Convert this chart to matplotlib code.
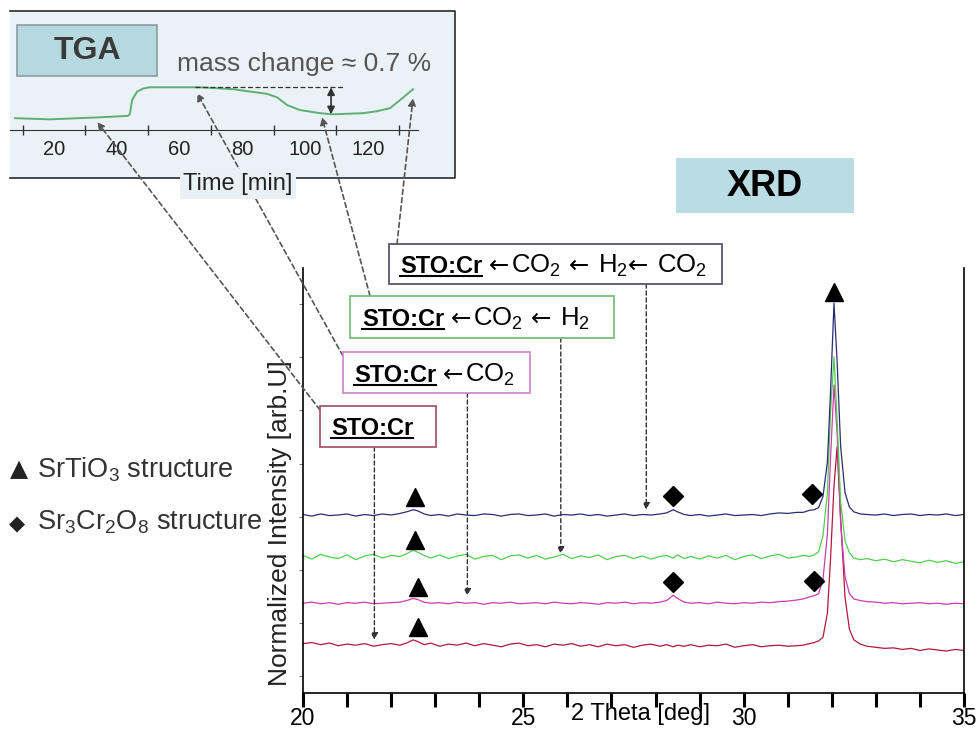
import re

import matplotlib
matplotlib.use("Agg")
import matplotlib.pyplot as plt
from matplotlib.patches import Rectangle, ConnectionPatch
from matplotlib.transforms import blended_transform_factory

plt.rcParams["font.family"] = ["Liberation Sans", "DejaVu Sans"]
plt.rcParams["mathtext.fontset"] = "custom"
plt.rcParams["mathtext.rm"] = "Liberation Sans"
plt.rcParams["mathtext.it"] = "Liberation Sans:italic"
plt.rcParams["mathtext.bf"] = "Liberation Sans:bold"

# %%
# XRD data (2 theta grid shared by the four patterns, intensity above each offset)
two_theta = [20.0, 20.2, 20.4, 20.6, 20.8, 21.0, 21.2, 21.4, 21.6, 21.8, 22.0, 22.2,
             22.35, 22.5, 22.6, 22.75, 22.9,
             23.1, 23.3, 23.5, 23.7, 23.9, 24.1, 24.3, 24.5, 24.7, 24.9, 25.1, 25.3, 25.5,
             25.7, 25.9, 26.1, 26.3, 26.5, 26.7, 26.9, 27.1, 27.3, 27.5, 27.7, 27.9, 28.1,
             28.25, 28.4, 28.5, 28.65, 28.8,
             29.0, 29.2, 29.4, 29.6, 29.8, 30.0, 30.2, 30.4, 30.6, 30.8, 31.0, 31.2,
             31.35, 31.5, 31.6, 31.7, 31.8, 31.9, 31.97, 32.05, 32.12, 32.2, 32.3, 32.4,
             32.5, 32.65, 32.8,
             33.0, 33.2, 33.4, 33.6, 33.8, 34.0, 34.2, 34.4, 34.6, 34.8, 35.0]

sto_cr = [0.03, 0.05, 0.01, 0.04, -0.01, 0.02, 0.00, 0.03, -0.02, 0.01, 0.03, 0.00,
          0.04, 0.10, 0.07, 0.01, 0.04,
          -0.02, 0.02, 0.00, 0.04, -0.01, 0.03, 0.00, -0.03, 0.02, 0.04, -0.01, 0.01, -0.03,
          0.02, 0.00, 0.03, -0.02, 0.01, -0.03, 0.02, -0.01, 0.01, -0.04, 0.00, 0.02, -0.02,
          0.01, -0.03, 0.00, -0.02, 0.01,
          -0.03, 0.00, -0.01, 0.02, -0.04, -0.01, 0.01, -0.03, -0.01, 0.00, -0.02, -0.01,
          0.00, 0.03, 0.05, 0.08, 0.15, 0.60, 1.60, 3.00, 3.73, 2.40, 0.90, 0.30,
          0.10, 0.02, -0.02,
          -0.04, -0.06, -0.05, -0.08, -0.06, -0.10, -0.07, -0.09, -0.11, -0.08, -0.10]

sto_cr_co2 = [0.00, 0.02, -0.01, 0.01, -0.02, 0.01, 0.00, 0.02, -0.01, 0.00, 0.01, 0.02,
              0.05, 0.09, 0.07, 0.02, 0.00,
              0.01, -0.01, 0.02, 0.00, 0.01, -0.02, 0.01, 0.00, 0.02, -0.01, 0.00, 0.01, -0.01,
              0.02, 0.00, -0.01, 0.01, 0.00, -0.02, 0.01, 0.00, 0.02, -0.01, 0.01, 0.00, 0.02,
              0.05, 0.15, 0.09, 0.02, 0.00,
              0.01, -0.01, 0.02, 0.00, -0.01, 0.01, 0.00, 0.02, 0.01, 0.03, 0.04, 0.06,
              0.08, 0.12, 0.14, 0.18, 0.45, 1.30, 2.70, 4.11, 3.20, 1.50, 0.50, 0.18,
              0.08, 0.05, 0.03,
              0.02, 0.00, 0.01, -0.01, 0.00, 0.01, -0.01, 0.00, -0.02, 0.00, -0.01]

sto_cr_co2_h2 = [0.03, -0.04, 0.05, 0.00, -0.03, 0.04, -0.05, 0.02, 0.05, -0.02, 0.03, 0.01,
                 0.06, 0.13, 0.09, 0.03, -0.02,
                 0.04, -0.03, 0.02, 0.05, -0.04, 0.01, 0.03, -0.05, 0.02, 0.04, -0.02, 0.03, -0.04,
                 0.00, 0.05, -0.03, 0.02, -0.01, 0.04, -0.05, 0.01, 0.03, -0.03, 0.02, -0.04, 0.01,
                 0.03, -0.02, 0.04, -0.03, 0.01,
                 -0.04, 0.02, -0.02, 0.03, -0.05, 0.01, 0.04, -0.03, 0.02, 0.05, -0.02, 0.00,
                 0.03, 0.01, 0.04, 0.10, 0.40, 1.20, 2.70, 3.77, 2.60, 1.05, 0.30, 0.08,
                 -0.02, -0.05, -0.03,
                 -0.07, -0.04, -0.09, -0.05, -0.08, -0.11, -0.06, -0.10, -0.07, -0.12, -0.09]

sto_cr_co2_h2_co2 = [0.01, -0.02, 0.02, -0.01, 0.00, 0.02, -0.02, 0.01, -0.01, 0.02, 0.00, 0.03,
                     0.06, 0.10, 0.08, 0.02, -0.01,
                     0.01, -0.02, 0.02, 0.00, -0.01, 0.02, 0.01, -0.02, 0.01, 0.02, -0.01, 0.00, 0.02,
                     -0.02, 0.01, 0.00, 0.02, -0.01, 0.01, -0.02, 0.00, 0.02, -0.01, 0.01, 0.00, 0.02,
                     0.04, 0.10, 0.06, 0.01, -0.01,
                     0.01, -0.02, 0.00, 0.02, -0.01, 0.00, 0.01, -0.01, 0.02, 0.04, 0.03, 0.05,
                     0.05, 0.09, 0.10, 0.14, 0.35, 1.00, 2.30, 3.99, 2.90, 1.30, 0.42, 0.15,
                     0.06, 0.02, 0.01,
                     0.00, 0.02, -0.01, 0.01, 0.02, -0.01, 0.01, 0.00, 0.02, -0.01, 0.01]

patterns = [sto_cr, sto_cr_co2, sto_cr_co2_h2, sto_cr_co2_h2_co2]
offsets = [0.58, 1.37, 2.24, 3.03]
trace_colors = ["#b0183c", "#cc3cae", "#4fcf4f", "#2c2c72"]

# phase markers
srtio3_theta = [22.6, 22.6, 22.55, 22.55, 32.05]
srtio3_y = [0.92, 1.68, 2.56, 3.37, 7.23]
sr3cr2o8_theta = [28.4, 31.6, 28.4, 31.55]
sr3cr2o8_y = [1.77, 1.79, 3.39, 3.43]

# %%
# TGA data
tga_time = [7.6, 18.8, 33.8, 43.6, 44.2, 44.9, 46.5, 48.5, 50.6, 66.6, 77.1, 87.9, 91.1,
            94.3, 98.4, 104.8, 108.9, 118.5, 122.9, 127.1, 130.3, 134.4]
tga_mass = [99.20, 99.17, 99.22, 99.26, 99.31, 99.67, 99.89, 99.97, 100.00, 100.00, 99.95,
            99.83, 99.74, 99.54, 99.41, 99.33, 99.30, 99.33, 99.38, 99.46, 99.67, 99.95]
mass_high, mass_low = 100.00, 99.30
tga_ticks = [10, 30, 50, 70, 90, 110, 130]
tga_labels = [20, 40, 60, 80, 100, 120]

# which TGA moment each sample corresponds to, and where it sits on the XRD pattern
sample_bold = ["STO:Cr", "STO:Cr", "STO:Cr", "STO:Cr"]
sample_rest = ["", "←CO$_2$", "←CO$_2$ ← H$_2$", "←CO$_2$ ← H$_2$← CO$_2$"]
box_colors = ["#a8586a", "#cf8ccc", "#78c078", "#56566e"]
tga_point_time = [33.8, 65.6, 105.4, 134.4]
tga_point_mass = [99.10, 99.85, 99.23, 99.72]
xrd_point_theta = [21.62, 23.73, 25.85, 27.79]
xrd_point_y = [0.68, 1.51, 2.30, 3.13]

# %%
W, H = 977, 730
fig = plt.figure(figsize=(W / 100, H / 100), dpi=100)


def px_rect(x0, y0, x1, y1):
    return [x0 / W, 1 - y1 / H, (x1 - x0) / W, (y1 - y0) / H]


bg = fig.add_axes([0, 0, 1, 1], zorder=0)
bg.set_xlim(0, W)
bg.set_ylim(H, 0)
bg.axis("off")

# TGA inset frame
bg.add_patch(Rectangle((10, 11), 445, 167, fc="#ebf2f7", ec="none"))
bg.plot([10, 455, 455, 10], [11, 11, 178, 178], color="#2a2a2a", lw=1.2)

# %%
# TGA curve
tga = fig.add_axes(px_rect(10, 40, 418, 130), zorder=1)
tga.patch.set_alpha(0)
tga.plot(tga_time, tga_mass, color="#5fae74", lw=1.4)
tga.plot([65.0, 112.7], [mass_high, mass_high], ls=(0, (4, 2)), color="#333333", lw=0.9)
tga.annotate("", xy=(108.3, mass_low), xytext=(108.3, mass_high),
             arrowprops=dict(arrowstyle="<|-|>", color="#333333", lw=1.2,
                             shrinkA=0, shrinkB=0, mutation_scale=11))
tga.set_xlim(6, 136)
tga.set_ylim(98.894, 101.225)
for s in ["top", "left", "right"]:
    tga.spines[s].set_visible(False)
tga.spines["bottom"].set_color("#333333")
tga.set_yticks([])
tga.set_xticks(tga_labels)
tga.set_xticks(tga_ticks, minor=True)
tga.tick_params(axis="x", which="major", length=0, pad=7, labelsize=14.5, labelcolor="#222222")
tga.tick_params(axis="x", which="minor", direction="inout", length=7, width=1, color="#333333")

# %%
# XRD patterns
xrd = fig.add_axes(px_rect(303, 268, 964, 693), zorder=1)
for vals, off, col in zip(patterns, offsets, trace_colors):
    xrd.plot(two_theta, [off + v for v in vals], color=col, lw=0.9)
xrd.plot(srtio3_theta, srtio3_y, ls="none", marker="^", ms=13, color="black")
xrd.plot(sr3cr2o8_theta, sr3cr2o8_y, ls="none", marker="D", ms=10, color="black")

xrd.set_xlim(20, 35)
xrd.set_ylim(-0.32, 7.68)
xrd.spines["top"].set_visible(False)
for s in ["left", "right", "bottom"]:
    xrd.spines[s].set_linewidth(1.2)
xrd.set_xticks(range(20, 36))
xrd.set_xticklabels([str(t) if t % 5 == 0 else "" for t in range(20, 36)])
xrd.tick_params(axis="x", direction="out", length=10, width=2.2, pad=0, labelsize=16.5)
xrd.set_yticks(range(0, 8))
xrd.set_yticklabels([])
xrd.tick_params(axis="y", direction="out", length=3, width=0.8, color="#777777")
xrd.set_xlabel("2 Theta [deg]", fontsize=17)
xrd.xaxis.set_label_coords(0.511, -0.0235)
xrd.set_ylabel("Normalized Intensity [arb.U]", fontsize=19, color="#222222")
xrd.yaxis.set_label_coords(-0.017, 0.40)

# %%
# Overlay: labels, boxes and arrows in pixel coordinates
ov = fig.add_axes([0, 0, 1, 1], zorder=3)
ov.set_xlim(0, W)
ov.set_ylim(H, 0)
ov.axis("off")

ov.add_patch(Rectangle((17, 25), 140, 51, fc="#b6d9df", ec="#8c9ca3", lw=1.2))
ov.text(87, 51, "TGA", fontsize=23, fontweight="bold", color="#3a3a3a", ha="center", va="center")
ov.text(177, 71, "mass change ≈ 0.7 %", fontsize=19, color="#555555", va="baseline")
ov.text(238, 190, "Time [min]", fontsize=17, color="#222222", ha="center", va="baseline",
        zorder=6, bbox=dict(boxstyle="square,pad=0.15", fc="#e9f1f6", ec="none"))

ov.add_patch(Rectangle((676, 158), 178, 55, fc="#b9dde3", ec="none"))
ov.text(765, 186, "XRD", fontsize=26, fontweight="bold", color="black", ha="center", va="center")

ov.text(10, 476, "▲", fontsize=17, color="#222222", va="baseline", family="DejaVu Sans")
ov.text(37, 477, "SrTiO$_3$ structure", fontsize=19.5, color="#333333", va="baseline")
ov.text(9, 530, "◆", fontsize=15, color="#222222", va="baseline", family="DejaVu Sans")
ov.text(37, 530, "Sr$_3$Cr$_2$O$_8$ structure", fontsize=19.5, color="#333333", va="baseline")

box_rects = [(320, 406, 436, 447), (343, 352, 530, 393), (350, 296, 614, 338), (389, 244, 722, 284)]
text_origin = [(331, 435), (354, 382), (362, 326), (400, 273)]
line_starts = [(320, 410), (343, 356), (370, 296), (397, 244)]

renderer = fig.canvas.get_renderer()


def write_runs(x, y, s):
    # lay the formula out piece by piece so the arrows get a full-size glyph
    for part in re.split("(←)", s):
        if part == "←":
            t = ov.text(x, y, part, fontsize=17.5, va="baseline", family="DejaVu Sans", zorder=4)
            x += t.get_window_extent(renderer).width
        elif part:
            lead = len(part) - len(part.lstrip(" "))
            trail = len(part) - len(part.rstrip(" "))
            x += 8 * lead
            if part.strip():
                t = ov.text(x + 1, y, part.strip(), fontsize=18.5, va="baseline", zorder=4)
                x += t.get_window_extent(renderer).width + 1
            x += 8 * trail


blend = blended_transform_factory(xrd.transData, ov.transData)
for i in range(4):
    x0, y0, x1, y1 = box_rects[i]
    ov.add_patch(Rectangle((x0, y0), x1 - x0, y1 - y0, fc="white", ec=box_colors[i], lw=1.3, zorder=3))
    tx, ty = text_origin[i]
    tb = ov.text(tx, ty, sample_bold[i], fontsize=17, fontweight="bold", va="baseline", zorder=4)
    w = tb.get_window_extent(renderer).width
    ov.plot([tx, tx + w], [ty + 3, ty + 3], color="black", lw=1.5, zorder=4)
    write_runs(tx + w + 7, ty, sample_rest[i])

    # dashed link up to the TGA curve
    con = ConnectionPatch(xyA=line_starts[i], coordsA=ov.transData,
                          xyB=(tga_point_time[i], tga_point_mass[i]), coordsB=tga.transData,
                          arrowstyle="-|>", mutation_scale=11, color="#555555", fc="#555555",
                          lw=1.2, ls=(0, (3, 2)), zorder=2)
    ov.add_artist(con)

    # dashed link down to the XRD pattern
    con = ConnectionPatch(xyA=(xrd_point_theta[i], y1), coordsA=blend,
                          xyB=(xrd_point_theta[i], xrd_point_y[i]), coordsB=xrd.transData,
                          arrowstyle="-|>", mutation_scale=10, color="#333333", fc="#333333",
                          lw=1.0, ls=(0, (3, 2)), zorder=2)
    ov.add_artist(con)

fig.savefig("out.png", dpi=100)
